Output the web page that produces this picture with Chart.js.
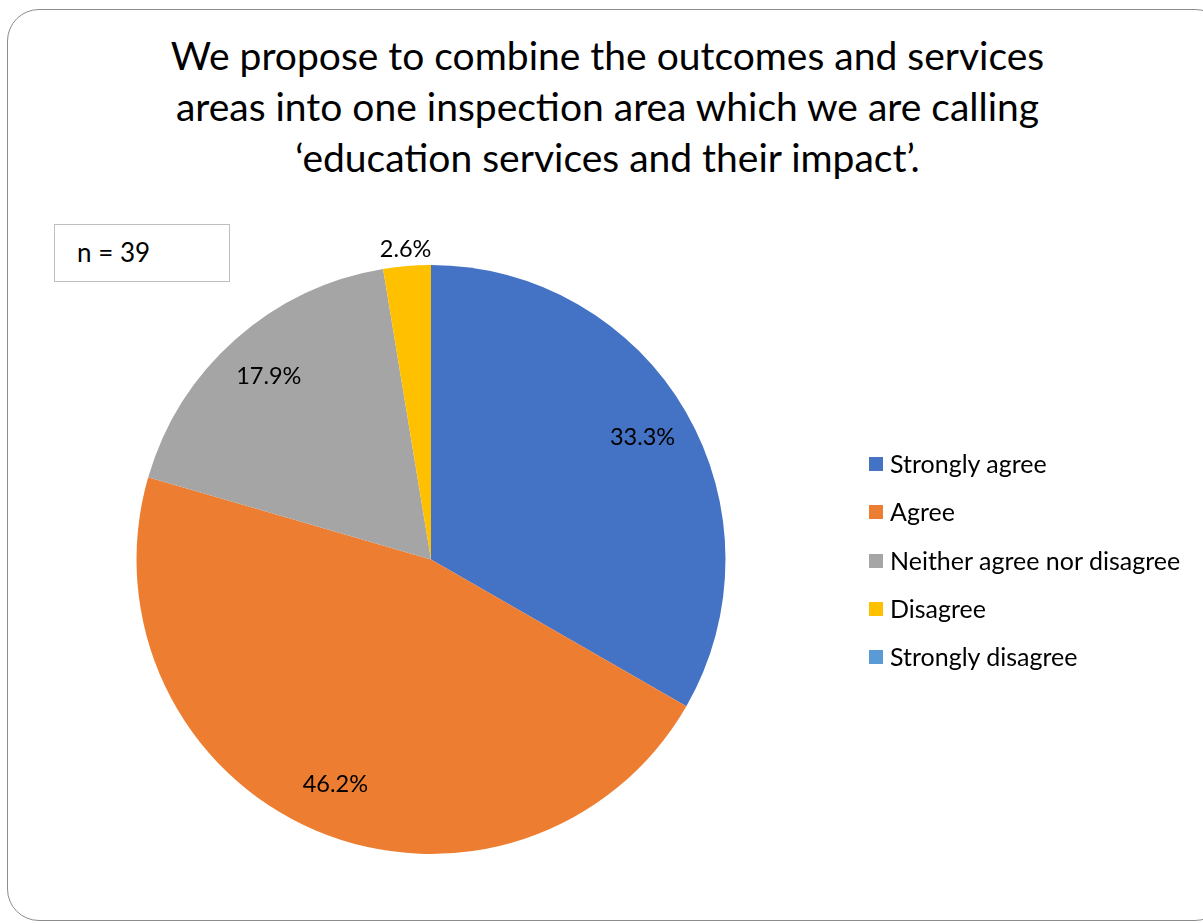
<!DOCTYPE html>
<html>
<head>
<meta charset="utf-8">
<script src="https://cdn.jsdelivr.net/npm/chart.js@4"></script>
<style>
  html, body { margin:0; padding:0; background:#fff; }
  body { width:1203px; height:923px; position:relative; overflow:hidden; font-family:Lato, "Open Sans", sans-serif; color:#000; }
  .frame { position:absolute; left:7px; top:9px; width:1220px; height:912px; border:1.5px solid #8c8c8c; border-radius:32px; box-sizing:border-box; }
  .title { position:absolute; left:0; width:1215px; top:30px; text-align:center; font-size:39px; line-height:51px; }
  .nbox { position:absolute; left:54px; top:224px; width:176px; height:58px; border:1.5px solid #bfbfbf; box-sizing:border-box; font-size:26px; line-height:55px; padding-left:22px; }
  #wrap { position:absolute; left:0; top:0; width:1203px; height:923px; }
  .legend { position:absolute; left:869px; top:448px; font-size:25px; }
  .legend div { height:48.3px; display:flex; align-items:flex-start; }
  .legend span.sw { display:inline-block; width:14px; height:14px; margin-right:7px; margin-top:9px; }
</style>
</head>
<body>
<div class="frame"></div>
<div class="title">We propose to combine the outcomes and services<br>areas into one inspection area which we are calling<br>‘education services and their impact’.</div>
<div class="nbox">n = 39</div>
<div id="wrap"><canvas id="chart" width="1203" height="923"></canvas></div>
<div class="legend" id="legend"></div>
<script>
const categories = ["Strongly agree", "Agree", "Neither agree nor disagree", "Disagree", "Strongly disagree"];
const shares = [33.3, 46.2, 17.9, 2.6, 0];
const colors = ["#4472C4", "#ED7D31", "#A5A5A5", "#FFC000", "#5B9BD5"];

// percent labels: inside the slice near the rim, small slices go outside
const sliceLabels = {
  id: "sliceLabels",
  afterDatasetsDraw(chart){
    const ctx = chart.ctx;
    const meta = chart.getDatasetMeta(0);
    ctx.save();
    ctx.font = "23.5px Lato, 'Open Sans', sans-serif";
    ctx.fillStyle = "#000";
    ctx.textAlign = "center";
    ctx.textBaseline = "middle";
    meta.data.forEach((arc, i) => {
      const v = shares[i];
      if(!v) return;
      const p = arc.getProps(["x","y","startAngle","endAngle","outerRadius"], true);
      const mid = (p.startAngle + p.endAngle) / 2;
      const r = v < 5 ? p.outerRadius + 17 : p.outerRadius * 0.83;
      ctx.fillText(`${v.toFixed(1)}%`, p.x + Math.cos(mid) * r, p.y + Math.sin(mid) * r);
    });
    ctx.restore();
  }
};

new Chart(document.getElementById("chart"), {
  type: "pie",
  data: {
    labels: categories,
    datasets: [{
      data: shares,
      backgroundColor: colors,
      borderWidth: 0
    }]
  },
  options: {
    responsive: false,
    animation: false,
    layout: {padding: {left: 136, right: 477, top: 265, bottom: 69}},
    plugins: {
      legend: {display: false},
      tooltip: {enabled: false}
    }
  },
  plugins: [sliceLabels]
});

const legend = document.getElementById("legend");
categories.forEach((c, i) => {
  const row = document.createElement("div");
  row.innerHTML = `<span class="sw" style="background:${colors[i]}"></span><span>${c}</span>`;
  legend.appendChild(row);
});
</script>
</body>
</html>
